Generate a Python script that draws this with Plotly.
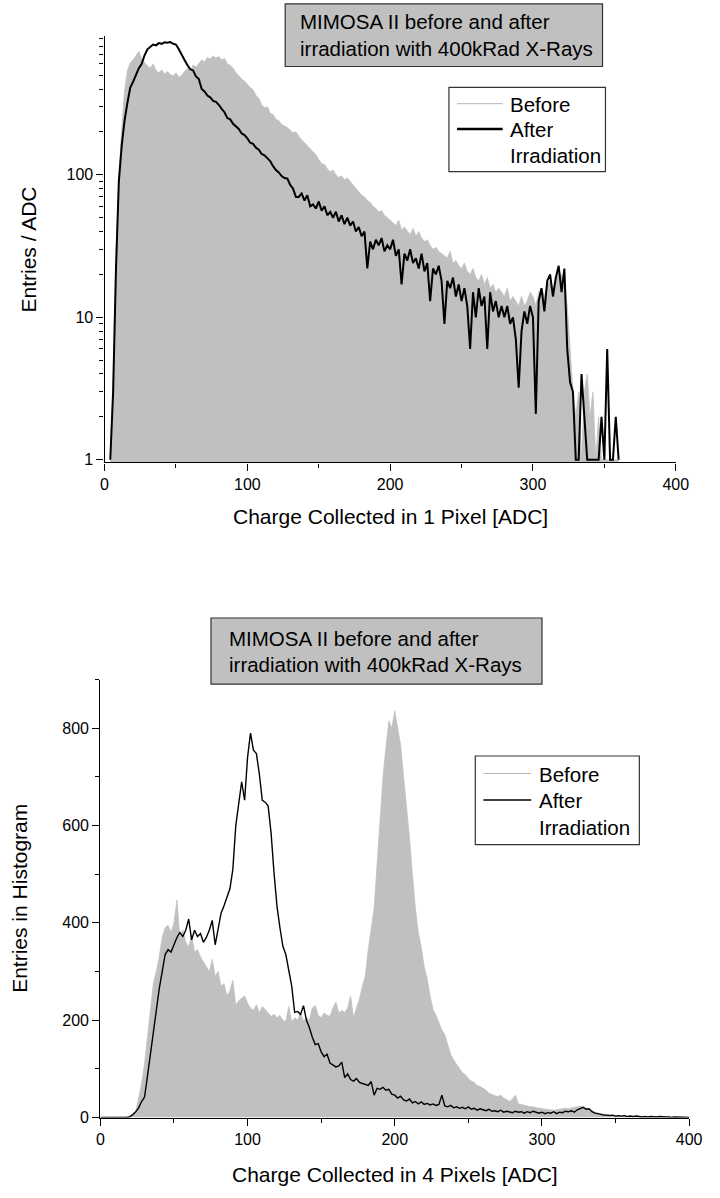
import plotly.graph_objects as go

# ---------------- data ----------------
# Top panel: charge collected in 1 pixel (2-ADC bins, 4..360)
adc_top = list(range(4, 362, 2))
top_before = [
    1, 4, 28, 95, 210, 390, 540, 610, 640, 690,
    735, 650, 610, 580, 560, 600, 540, 520, 545, 510,
    530, 505, 495, 520, 482, 500, 530, 560, 540, 590,
    570, 610, 640, 620, 665, 650, 680, 660, 675, 640,
    655, 600, 585, 560, 520, 495, 470, 455, 430, 410,
    395, 360, 345, 310, 295, 300, 270, 265, 245, 240,
    225, 220, 215, 205, 198, 200, 185, 175, 168, 160,
    152, 145, 138, 128, 120, 118, 110, 105, 108, 100,
    96, 98, 92, 95, 90, 85, 80, 76, 72, 70,
    66, 64, 60, 58, 55, 56, 52, 50, 48, 46,
    44, 48, 41, 43, 40, 38, 42, 37, 40, 36,
    34, 35, 32, 30, 31, 29, 28, 27, 26, 29,
    24, 25, 23, 22, 24, 21, 20, 22, 19, 18,
    20, 17, 19, 16, 17, 15, 16, 15, 14, 16,
    13, 14, 13, 12, 14, 12, 13, 15, 14, 12,
    15, 16, 14, 17, 18, 16, 19, 21, 20, 18,
    12, 6, 3, 2, 3, 1, 3, 4, 2, 3,
    1, 2, 1, 1, 1, 1, 1, 1, 1,
]
top_after = [
    1, 3, 22, 90, 160, 240, 320, 410, 450, 500,
    560, 600, 690, 760, 790, 820, 810, 840, 830, 850,
    845, 855, 830, 820, 760, 690, 640, 590, 550, 540,
    490, 470, 400, 385, 360, 350, 330, 325, 310, 290,
    275, 250, 245, 228, 220, 210, 195, 190, 180, 168,
    165, 155, 150, 140, 137, 130, 125, 115, 108, 104,
    98, 95, 94, 85, 80, 70, 70, 74, 66, 72,
    60, 62, 58, 65, 56, 60, 52, 55, 50, 55,
    47, 52, 45, 50, 44, 47, 40, 43, 37, 40,
    22, 34, 30, 35, 32, 36, 29, 32, 30, 35,
    27, 30, 17, 28, 25, 30, 24, 26, 22, 28,
    21, 24, 13, 22, 20, 23, 18, 9, 18, 16,
    19, 14, 17, 13, 16, 12, 6, 15, 10, 16,
    12, 14, 6, 15, 11, 13, 10, 12, 10, 12,
    9, 10, 7, 3.2, 8, 11, 9, 12, 10, 2.1,
    13, 16, 11, 18, 20, 14, 19, 23, 15, 22,
    6, 3.5, 3, 1, 1, 4, 2, 1, 1, 1,
    1, 1, 2, 1, 6, 1, 1, 2, 1,
]

# Bottom panel: charge collected in 4 pixels (2-ADC bins, 0..400)
adc_bot = list(range(0, 402, 2))
bot_before = [
    0, 0, 0, 0, 0, 0, 0, 0, 0, 0,
    1, 4, 12, 40, 70, 110, 170, 230, 275, 300,
    330, 370, 390, 395, 380, 400, 447, 370, 385, 360,
    350, 375, 340, 345, 330, 320, 310, 300, 325, 290,
    300, 270, 275, 250, 260, 282, 230, 240, 245, 250,
    235, 225, 220, 232, 215, 228, 222, 215, 208, 212,
    205, 210, 200, 198, 228, 196, 205, 200, 215, 198,
    205, 200, 225, 230, 210, 205, 215, 210, 208, 225,
    237, 215, 220, 216, 225, 250, 205, 225, 243, 270,
    291, 345, 390, 430, 520, 620, 700, 760, 815, 800,
    835, 800, 765, 700, 640, 575, 500, 430, 380, 350,
    310, 285, 250, 222, 210, 195, 180, 170, 150, 130,
    118, 110, 100, 92, 88, 80, 75, 72, 66, 64,
    60, 56, 50, 47, 45, 43, 46, 40, 36, 33,
    38, 46, 28, 27, 25, 24, 22, 22, 20, 19,
    18, 17, 16, 16, 15, 16, 17, 18, 19, 18,
    20, 21, 22, 23, 22, 20, 17, 14, 11, 9,
    8, 7, 6, 5, 5, 4, 4, 3, 3, 3,
    3, 2, 2, 2, 2, 2, 2, 1, 1, 1,
    1, 1, 1, 1, 1, 1, 1, 1, 1, 1,
    1,
]
bot_after = [
    0, 0, 0, 0, 0, 0, 0, 0, 0, 0,
    2, 6, 12, 20, 33, 42, 85, 130, 185, 225,
    265, 300, 335, 345, 340, 355, 370, 380, 372, 385,
    408, 365, 385, 372, 378, 360, 370, 385, 405, 355,
    392, 420, 435, 455, 470, 510, 600, 645, 690, 652,
    740, 790, 755, 748, 706, 652, 648, 640, 584, 502,
    434, 390, 352, 335, 300, 270, 216, 218, 212, 230,
    200, 185, 165, 150, 152, 135, 125, 130, 112, 108,
    104, 106, 114, 82, 90, 78, 75, 80, 72, 70,
    68, 66, 74, 46, 60, 58, 62, 56, 58, 48,
    46, 40, 44, 36, 34, 38, 30, 33, 28, 32,
    27, 29, 26, 28, 25, 27, 46, 24, 22, 25,
    20, 22, 19, 21, 18, 22, 17, 19, 15, 18,
    16, 14, 17, 13, 14, 12, 15, 11, 13, 12,
    10, 13, 11, 12, 9, 12, 10, 13, 11, 9,
    11, 8, 10, 9, 12, 8, 11, 10, 13, 12,
    14, 11, 16, 19, 21, 17, 18, 12, 9, 8,
    6, 5, 5, 4, 5, 3, 4, 3, 4, 2,
    3, 2, 3, 2, 1, 2, 1, 2, 1, 1,
    2, 1, 1, 1, 0, 1, 1, 0, 1, 0,
    0,
]

x_ticks = [0, 100, 200, 300, 400]
x_minor = [50, 150, 250, 350]
top_y_ticks = [1, 10, 100]
top_y_minor = [2, 3, 4, 5, 6, 7, 8, 9, 20, 30, 40, 50, 60, 70, 80, 90,
               200, 300, 400, 500, 600, 700, 800, 900]
bot_y_ticks = [0, 200, 400, 600, 800]
bot_y_minor = [100, 300, 500, 700, 900]

title_lines = ["MIMOSA II before and after", "irradiation with 400kRad X-Rays"]
legend_labels = ["Before", "After", "Irradiation"]
top_xtitle = "Charge Collected in 1 Pixel [ADC]"
top_ytitle = "Entries / ADC"
bot_xtitle = "Charge Collected in 4 Pixels [ADC]"
bot_ytitle = "Entries in Histogram"

# ---------------- figure ----------------
W, H = 720, 1198
FONT = "Liberation Sans, Arial, sans-serif"
GRAY = "#c0c0c0"


def px(x):
    return x / W


def py(y):
    return 1 - y / H


fig = go.Figure()
fig.add_trace(go.Scatter(x=adc_top, y=top_before, mode="lines", fill="tozeroy",
                         fillcolor=GRAY, line=dict(color=GRAY, width=0.8),
                         xaxis="x", yaxis="y", showlegend=False, hoverinfo="skip"))
fig.add_trace(go.Scatter(x=adc_top, y=top_after, mode="lines",
                         line=dict(color="black", width=2),
                         xaxis="x", yaxis="y", showlegend=False))
fig.add_trace(go.Scatter(x=adc_bot, y=bot_before, mode="lines", fill="tozeroy",
                         fillcolor=GRAY, line=dict(color=GRAY, width=0.8),
                         xaxis="x2", yaxis="y2", showlegend=False, hoverinfo="skip"))
fig.add_trace(go.Scatter(x=adc_bot, y=bot_after, mode="lines",
                         line=dict(color="black", width=1.4),
                         xaxis="x2", yaxis="y2", showlegend=False))

axis_common = dict(showline=True, linecolor="black", linewidth=1.3, ticks="outside",
                   ticklen=7, tickwidth=1.3, tickcolor="black", showgrid=False,
                   zeroline=False, tickfont=dict(family=FONT, size=16, color="black"))


def minor(vals):
    return dict(tickmode="array", tickvals=vals, ticks="outside", ticklen=4,
                tickwidth=1.3, tickcolor="black", showgrid=False)


fig.update_layout(
    width=W, height=H, margin=dict(l=0, r=0, t=0, b=0),
    paper_bgcolor="white", plot_bgcolor="white",
    font=dict(family=FONT, color="black"),
    xaxis=dict(domain=[px(103), px(688)], range=[0, 400], anchor="y",
               tickmode="array", tickvals=x_ticks, minor=minor(x_minor), **axis_common),
    yaxis=dict(domain=[py(466), py(36)], type="log", range=[-0.019, 2.976], anchor="x",
               tickmode="array", tickvals=top_y_ticks,
               ticktext=[str(v) for v in top_y_ticks],
               minor=minor(top_y_minor), **axis_common),
    xaxis2=dict(domain=[px(98.7), px(701.7)], range=[0, 400], anchor="y2",
                tickmode="array", tickvals=x_ticks, minor=minor(x_minor), **axis_common),
    yaxis2=dict(domain=[py(1126), py(684.7)], range=[0, 900], anchor="x2",
                tickmode="array", tickvals=bot_y_ticks, minor=minor(bot_y_minor),
                **axis_common),
)

shapes = []
annotations = []


def text(x, y, s, size=20.5, xanchor="left", angle=0):
    annotations.append(dict(xref="paper", yref="paper", x=px(x), y=py(y), text=s,
                            showarrow=False, xanchor=xanchor, yanchor="middle",
                            textangle=angle,
                            font=dict(family=FONT, size=size, color="black")))


def rect(x0, y0, x1, y1, fill):
    shapes.append(dict(type="rect", xref="paper", yref="paper", x0=px(x0), x1=px(x1),
                       y0=py(y1), y1=py(y0), fillcolor=fill,
                       line=dict(color="#333333", width=1.2), layer="above"))


def seg(x0, x1, y, color, width):
    shapes.append(dict(type="line", xref="paper", yref="paper", x0=px(x0), x1=px(x1),
                       y0=py(y), y1=py(y), line=dict(color=color, width=width),
                       layer="above"))


# top panel decorations
rect(288, 4, 613, 67, GRAY)
text(301, 22, title_lines[0])
text(301, 49, title_lines[1])
rect(455.7, 88, 616, 173, "white")
seg(464, 510.7, 104.5, "#b4b4b4", 1)
seg(464, 510.7, 130, "black", 2.5)
text(516, 105, legend_labels[0])
text(516, 130.5, legend_labels[1])
text(516, 156.7, legend_labels[2])
text(395.5, 520, top_xtitle, size=21, xanchor="center")
text(25, 251, top_ytitle, size=21, xanchor="center", angle=-90)

# bottom panel decorations
rect(212, 622.7, 551, 689.3, GRAY)
text(228, 643.3, title_lines[0])
text(228, 670, title_lines[1])
rect(482.7, 761.7, 650.7, 851, "white")
seg(491, 540, 779.3, "#b4b4b4", 1)
seg(491, 540, 806, "black", 1.5)
text(545.5, 780, legend_labels[0])
text(545.5, 806.7, legend_labels[1])
text(545.5, 833.3, legend_labels[2])
text(400, 1183, bot_xtitle, size=21, xanchor="center")
text(16, 905, bot_ytitle, size=21, xanchor="center", angle=-90)

fig.update_layout(shapes=shapes, annotations=annotations)

fig.write_html("out.html", config={"displayModeBar": False},
               post_script="document.body.style.margin='0';")
